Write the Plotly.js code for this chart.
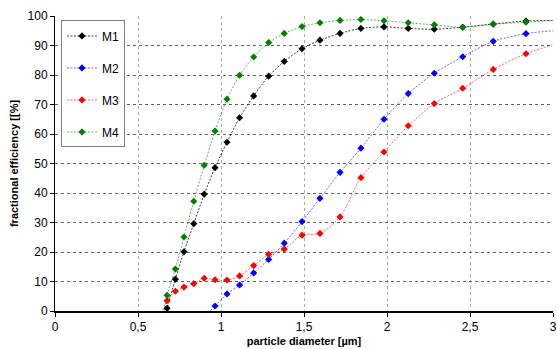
<!DOCTYPE html>
<html>
<head>
<meta charset="utf-8">
<script src="https://cdn.plot.ly/plotly-3.0.1.min.js"></script>
<style>html,body{margin:0;padding:0;background:#fff;}#chart{width:557px;height:349px;}</style>
</head>
<body>
<div id="chart"></div>
<script>
// particle diameter [µm]
const diameter = [0.625, 0.675, 0.725, 0.777, 0.836, 0.899, 0.964, 1.036, 1.112, 1.197, 1.287, 1.381, 1.488, 1.596, 1.717, 1.843, 1.982, 2.128, 2.285, 2.456, 2.64, 2.837, 3.06];
const m1 = [-10, 0.9, 10.8, 20.1, 29.6, 39.6, 48.6, 57.2, 65.5, 72.9, 79.6, 84.6, 88.9, 91.8, 94.1, 95.8, 96.3, 95.8, 95.5, 96.2, 97.3, 98.3, 98.5];
const m2x = [0.836, 0.899, 0.964, 1.036, 1.112, 1.197, 1.287, 1.381, 1.488, 1.596, 1.717, 1.843, 1.982, 2.128, 2.285, 2.456, 2.64, 2.837, 3.06];
const m2 = [-6, -2, 1.7, 5.8, 8.8, 12.9, 17.5, 23.0, 30.3, 38.2, 47.0, 55.2, 65.0, 73.7, 80.6, 86.2, 91.4, 94.0, 95.3];
const m3 = [-3, 3.5, 6.7, 8.1, 9.3, 11.1, 10.6, 10.5, 11.9, 15.4, 19.2, 21.0, 25.7, 26.3, 31.9, 45.2, 53.9, 62.8, 70.3, 75.5, 81.9, 87.2, 91.3];
const m4 = [-12, 5.3, 14.2, 25.1, 37.2, 49.4, 61.0, 71.8, 79.9, 86.1, 91.0, 94.1, 96.4, 97.7, 98.5, 98.8, 98.4, 97.7, 97.0, 96.2, 97.2, 97.9, 98.7];
const seriesNames = ['M1', 'M2', 'M3', 'M4'];
const seriesColors = ['#000000', '#0000ff', '#ff0000', '#008000'];
const lineColors = ['rgba(0,0,0,0.75)', 'rgba(0,0,255,0.6)', 'rgba(255,0,0,0.6)', 'rgba(0,128,0,0.6)'];
const xTickVals = [0, 0.5, 1, 1.5, 2, 2.5, 3];
const xTickText = ['0', '0,5', '1', '1,5', '2', '2,5', '3'];

const xs = [diameter, m2x, diameter, diameter];
const ys = [m1, m2, m3, m4];
const traces = ys.map((y, i) => ({
  x: xs[i], y: y, name: seriesNames[i], type: 'scatter', mode: 'lines+markers',
  legendgroup: 'g' + i,
  line: {color: lineColors[i], width: 1, dash: '2px,1.5px', shape: 'spline', smoothing: 0.8},
  marker: {symbol: 'diamond', size: 5.5, color: seriesColors[i]},
  cliponaxis: true
}));

const layout = {
  width: 557, height: 349,
  margin: {l: 55, r: 4, t: 16, b: 38},
  paper_bgcolor: '#ffffff', plot_bgcolor: '#ffffff',
  font: {family: 'Liberation Sans, Arial, sans-serif', size: 12, color: '#000'},
  showlegend: true,
  legend: {
    x: 0.012, y: 0.985, xanchor: 'left', yanchor: 'top',
    bordercolor: '#808080', borderwidth: 1, bgcolor: '#ffffff',
    font: {size: 12, color: '#000'}, tracegroupgap: 13,
    itemwidth: 30
  },
  xaxis: {
    range: [0, 3], tickvals: xTickVals, ticktext: xTickText,
    showgrid: true, gridcolor: '#a8a8a8', griddash: 'dot', gridwidth: 1,
    showline: true, linecolor: '#000', linewidth: 2,
    ticks: 'outside', ticklen: 4, tickcolor: '#000',
    zeroline: false, fixedrange: true,
    title: {text: 'particle diameter [µm]', font: {size: 11, weight: 'bold'}, standoff: 4}
  },
  yaxis: {
    range: [0, 100], dtick: 10, tick0: 0,
    showgrid: true, gridcolor: '#606060', griddash: 'dot', gridwidth: 1,
    showline: true, linecolor: '#000', linewidth: 1,
    ticks: 'outside', ticklen: 4, tickcolor: '#000',
    zeroline: false, fixedrange: true,
    title: {text: 'fractional efficiency [[%]', font: {size: 11, weight: 'bold'}, standoff: 6}
  }
};
Plotly.newPlot('chart', traces, layout, {displayModeBar: false, staticPlot: true});
</script>
</body>
</html>
